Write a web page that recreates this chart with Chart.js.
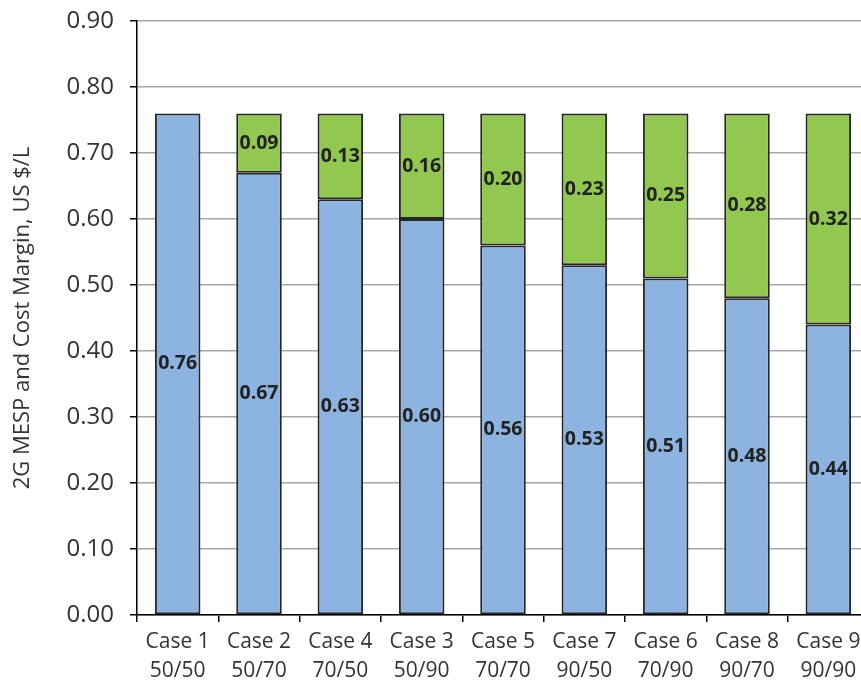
<!DOCTYPE html>
<html>
<head>
<meta charset="utf-8">
<script src="https://cdn.jsdelivr.net/npm/chart.js@4/dist/chart.umd.min.js"></script>
<style>
  html, body { margin: 0; padding: 0; background: #fff; overflow: hidden; }
  #wrap { width: 861px; height: 684px; overflow: hidden; }
</style>
</head>
<body>
<div id="wrap"><canvas id="myChart" width="880" height="684"></canvas></div>
<script>
const casos = [["Case 1", "50/50"], ["Case 2", "50/70"], ["Case 4", "70/50"], ["Case 3", "50/90"],
  ["Case 5", "70/70"], ["Case 7", "90/50"], ["Case 6", "70/90"], ["Case 8", "90/70"], ["Case 9", "90/90"]];
const mesp = [0.76, 0.67, 0.63, 0.60, 0.56, 0.53, 0.51, 0.48, 0.44];
const margen = [null, 0.09, 0.13, 0.16, 0.20, 0.23, 0.25, 0.28, 0.32];

const fuente = "'Open Sans', 'Liberation Sans', sans-serif";

// escribe el valor de cada segmento en el centro de la barra
const etiquetas = {
  id: "etiquetas",
  afterDatasetsDraw(chart) {
    const ctx = chart.ctx;
    ctx.save();
    ctx.font = "bold 19.5px " + fuente;
    ctx.fillStyle = "#222";
    ctx.textAlign = "center";
    ctx.textBaseline = "middle";
    chart.data.datasets.forEach((ds, i) => {
      chart.getDatasetMeta(i).data.forEach((bar, j) => {
        const v = ds.data[j];
        if (v == null) return;
        ctx.fillText(v.toFixed(2), bar.x, (bar.y + bar.base) / 2);
      });
    });
    ctx.restore();
  },
};

new Chart(document.getElementById("myChart"), {
  type: "bar",
  data: {
    labels: casos,
    datasets: [
      {
        label: "MESP",
        data: mesp,
        backgroundColor: "#8db3e0",
        borderColor: "#262626",
        borderWidth: 2,
        borderSkipped: false,
        categoryPercentage: 1,
        barPercentage: 0.56,
      },
      {
        label: "Margen",
        data: margen,
        backgroundColor: "#92c850",
        borderColor: "#262626",
        borderWidth: 2,
        borderSkipped: false,
        categoryPercentage: 1,
        barPercentage: 0.56,
      },
    ],
  },
  options: {
    responsive: false,
    animation: false,
    layout: { padding: { top: 21, right: 11, left: 0, bottom: 0 } },
    plugins: {
      legend: { display: false },
      tooltip: { enabled: false },
    },
    scales: {
      x: {
        stacked: true,
        offset: true,
        grid: { offset: true, drawOnChartArea: false, drawTicks: true, tickLength: 7, tickColor: "#000", lineWidth: 1.5 },
        border: { color: "#000", width: 1.5 },
        ticks: { color: "#333", font: { family: fuente, size: 21, lineHeight: 1.4 }, padding: 5, maxRotation: 0, autoSkip: false },
        afterFit(scale) { scale.height = 69; },
      },
      y: {
        stacked: true,
        min: 0,
        max: 0.9,
        grid: { color: "#a6a6a6", lineWidth: 1.5, tickLength: 7, tickColor: "#000" },
        border: { color: "#000", width: 1.5 },
        ticks: {
          stepSize: 0.1,
          color: "#333",
          padding: 16,
          font: { family: fuente, size: 24 },
          callback: (v) => v.toFixed(2),
        },
        title: {
          display: true,
          text: "2G MESP and Cost Margin, US $/L",
          color: "#333",
          font: { family: fuente, size: 22 },
          padding: { top: 10, bottom: 4 },
        },
        afterFit(scale) {
          scale.width = 137;
          scale.paddingTop = 0;
          scale.paddingBottom = 0;
        },
      },
    },
  },
  plugins: [etiquetas],
});
</script>
</body>
</html>
